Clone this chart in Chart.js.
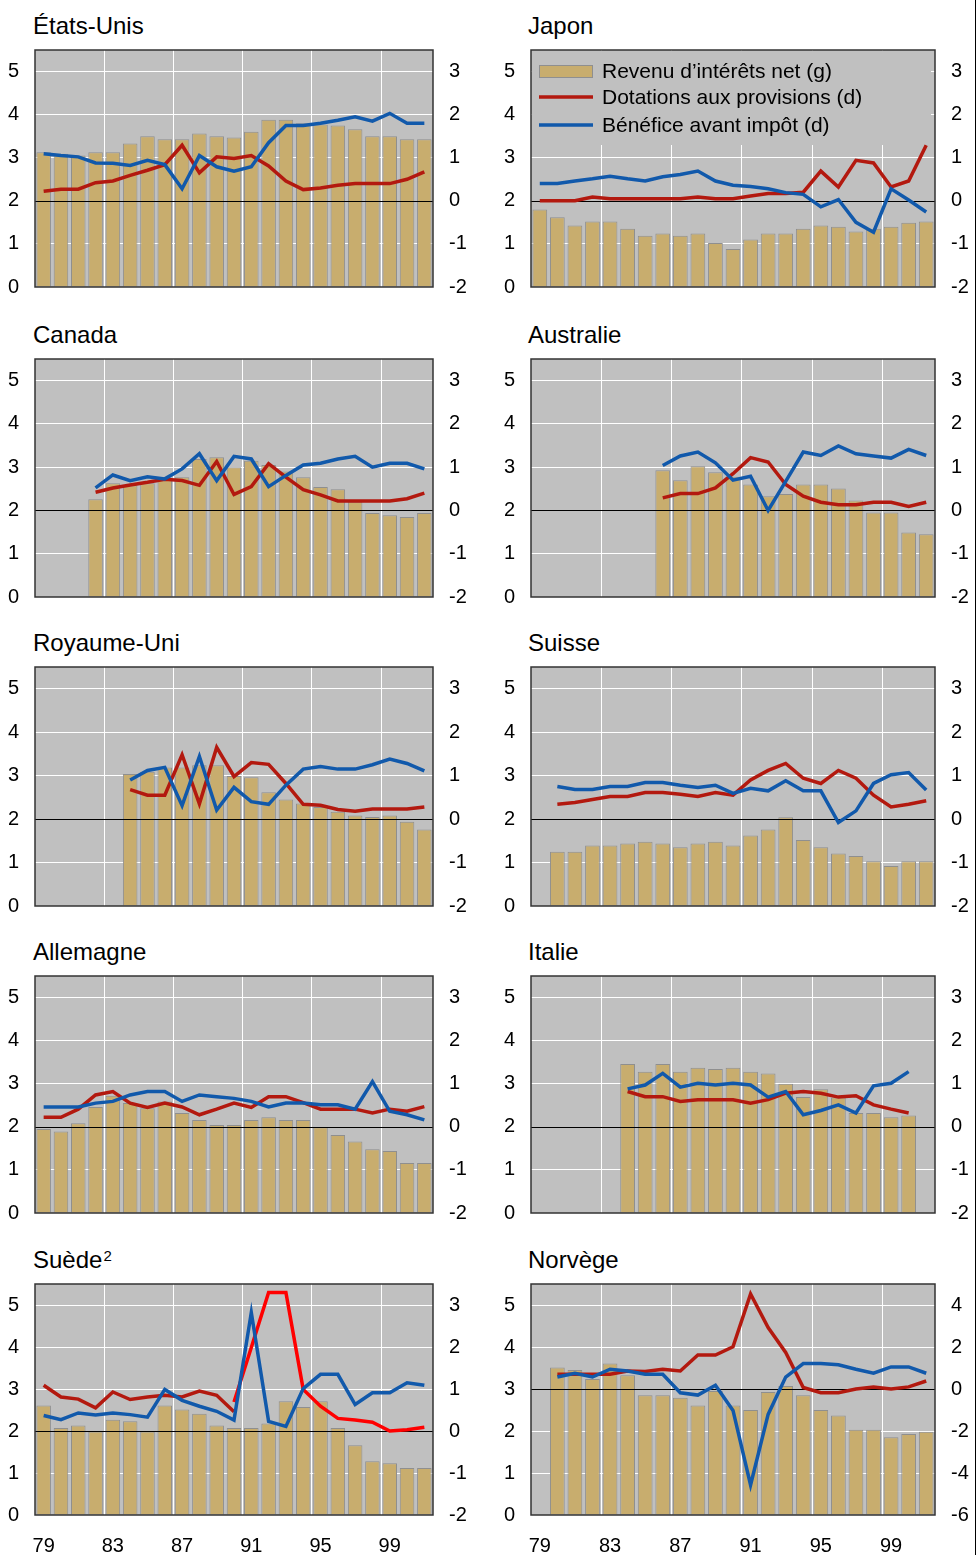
<!DOCTYPE html>
<html>
<head>
<meta charset="utf-8">
<script src="https://cdn.jsdelivr.net/npm/chart.js@4.4.1/dist/chart.umd.min.js"></script>
<style>
  body { margin: 0; background: #fff; }
  #page { position: relative; width: 977px; height: 1555px; overflow: hidden; background: #fff; }
  #page canvas { position: absolute; }
  .title { position: absolute; font-family: "Liberation Sans", Arial, sans-serif; font-size: 24px; line-height: 24px; color: #000; white-space: nowrap; }
  .title sup { font-size: 15px; vertical-align: top; position: relative; top: -4px; margin-left: 1px; }
  #edge { position: absolute; left: 975px; top: 0; width: 1px; height: 1555px; background: #000; }
</style>
</head>
<body>
<div id="page"><div id="edge"></div></div>
<script>
// years 1979-2001
const years = ['79','80','81','82','83','84','85','86','87','88','89','90','91','92','93','94','95','96','97','98','99','00','01'];
const yearTicks = ['79','83','87','91','95','99'];
const leftTicks = [0, 1, 2, 3, 4, 5];
const rightTicks = [-2, -1, 0, 1, 2, 3];
const rightTicksNorway = [-6, -4, -2, 0, 2, 4];

const labelBars = 'Revenu d’intérêts net (g)';
const labelProv = 'Dotations aux provisions (d)';
const labelProfit = 'Bénéfice avant impôt (d)';

// États-Unis
const usBars   = [3.13,3.09,3.05,3.13,3.13,3.33,3.50,3.43,3.43,3.56,3.50,3.47,3.60,3.88,3.88,3.80,3.77,3.75,3.66,3.50,3.50,3.43,3.43];
const usProv   = [0.22,0.27,0.27,0.42,0.46,0.59,0.71,0.84,1.29,0.65,1.02,0.98,1.05,0.81,0.46,0.26,0.30,0.36,0.40,0.40,0.40,0.50,0.67];
const usProfit = [1.09,1.05,1.02,0.88,0.87,0.82,0.94,0.84,0.28,1.05,0.79,0.69,0.79,1.35,1.75,1.75,1.80,1.87,1.95,1.85,2.03,1.80,1.80];

// Japon
const jpBars   = [1.80,1.62,1.43,1.52,1.52,1.35,1.19,1.24,1.19,1.24,1.02,0.88,1.10,1.24,1.24,1.35,1.43,1.40,1.29,1.35,1.40,1.49,1.52];
const jpProv   = [0.00,0.00,0.00,0.09,0.05,0.05,0.05,0.05,0.05,0.09,0.05,0.05,0.11,0.17,0.17,0.20,0.69,0.32,0.94,0.88,0.32,0.46,1.29];
const jpProfit = [0.40,0.40,0.46,0.51,0.57,0.51,0.46,0.56,0.61,0.69,0.46,0.36,0.33,0.28,0.19,0.15,-0.14,0.03,-0.50,-0.73,0.28,0.02,-0.26];

// Canada
const caBars   = [null,null,null,2.26,2.63,2.58,2.63,2.73,2.77,3.19,3.23,3.00,3.15,3.05,2.90,2.77,2.54,2.49,2.20,1.94,1.89,1.85,1.94];
const caProv   = [null,null,null,0.42,0.52,0.59,0.65,0.72,0.69,0.58,1.13,0.37,0.55,1.08,0.77,0.48,0.36,0.22,0.22,0.22,0.22,0.27,0.40];
const caProfit = [null,null,null,0.52,0.82,0.69,0.78,0.73,0.96,1.31,0.69,1.25,1.19,0.55,0.81,1.05,1.09,1.19,1.25,1.00,1.09,1.09,0.96];

// Australie
const auBars   = [null,null,null,null,null,null,null,2.93,2.70,3.02,2.88,2.78,2.60,2.33,2.38,2.60,2.60,2.51,2.23,1.95,1.95,1.49,1.45];
const auProv   = [null,null,null,null,null,null,null,0.29,0.39,0.39,0.52,0.85,1.22,1.12,0.60,0.33,0.19,0.13,0.13,0.19,0.19,0.09,0.19];
const auProfit = [null,null,null,null,null,null,null,1.04,1.26,1.35,1.10,0.70,0.79,0.00,0.67,1.35,1.27,1.49,1.31,1.26,1.21,1.41,1.27];

// Royaume-Uni
const ukBars   = [null,null,null,null,null,3.04,3.09,3.19,3.19,3.24,3.24,2.99,2.96,2.62,2.45,2.36,2.28,2.17,2.08,2.05,2.08,1.94,1.76];
const ukProv   = [null,null,null,null,null,0.68,0.55,0.55,1.48,0.35,1.65,0.98,1.30,1.26,0.82,0.34,0.32,0.22,0.18,0.23,0.23,0.23,0.28];
const ukProfit = [null,null,null,null,null,0.90,1.12,1.19,0.31,1.44,0.21,0.73,0.40,0.34,0.78,1.15,1.21,1.15,1.15,1.25,1.38,1.28,1.11];

// Suisse
const chBars   = [null,1.25,1.25,1.39,1.39,1.44,1.48,1.44,1.35,1.44,1.48,1.39,1.62,1.76,2.04,1.52,1.35,1.21,1.15,1.03,0.92,1.03,1.03];
const chProv   = [null,0.34,0.38,0.45,0.52,0.52,0.61,0.61,0.57,0.52,0.61,0.55,0.90,1.12,1.28,0.94,0.82,1.12,0.94,0.55,0.28,0.34,0.42];
const chProfit = [null,0.75,0.68,0.68,0.75,0.75,0.84,0.84,0.78,0.73,0.78,0.59,0.71,0.65,0.88,0.65,0.65,-0.08,0.19,0.82,1.02,1.07,0.67];

// Allemagne
const deBars   = [1.95,1.89,2.08,2.46,2.72,2.55,2.43,2.59,2.32,2.16,2.04,2.04,2.16,2.22,2.16,2.16,1.99,1.81,1.66,1.48,1.44,1.16,1.16];
const deProv   = [0.22,0.22,0.41,0.74,0.82,0.55,0.45,0.55,0.46,0.28,0.41,0.55,0.45,0.70,0.70,0.56,0.41,0.41,0.41,0.32,0.41,0.36,0.47];
const deProfit = [0.46,0.46,0.46,0.55,0.59,0.74,0.82,0.82,0.59,0.74,0.70,0.66,0.59,0.46,0.55,0.55,0.51,0.51,0.41,1.05,0.36,0.28,0.16];

// Italie
const itBars   = [null,null,null,null,null,3.46,3.28,3.46,3.28,3.37,3.34,3.37,3.28,3.24,3.00,2.69,2.87,2.68,2.32,2.32,2.22,2.26,null];
const itProv   = [null,null,null,null,null,0.82,0.70,0.70,0.59,0.63,0.63,0.63,0.55,0.63,0.78,0.82,0.78,0.69,0.72,0.51,0.41,0.32,null];
const itProfit = [null,null,null,null,null,0.88,0.97,1.24,0.92,1.01,0.97,1.01,0.97,0.69,0.82,0.28,0.38,0.51,0.32,0.95,1.01,1.28,null];

// Suède (two provision series: old up to 1990, new from 1990)
const seBars    = [2.61,2.07,2.13,1.99,2.27,2.23,1.99,2.61,2.51,2.41,2.13,2.07,2.07,2.18,2.71,2.57,2.71,2.07,1.66,1.28,1.23,1.12,1.12];
const seProv    = [1.09,0.81,0.76,0.55,0.93,0.75,0.81,0.85,0.81,0.95,0.85,0.46,null,null,null,null,null,null,null,null,null,null,null];
const seProvNew = [null,null,null,null,null,null,null,null,null,null,null,0.69,1.99,3.30,3.30,0.99,0.59,0.30,0.26,0.21,0.00,0.03,0.09];
const seProfit  = [0.37,0.27,0.43,0.38,0.43,0.39,0.33,0.99,0.73,0.59,0.47,0.26,2.82,0.23,0.11,1.01,1.35,1.35,0.63,0.91,0.91,1.15,1.09];

// Norvège
const noBars   = [null,3.51,3.45,3.24,3.61,3.33,2.85,2.85,2.79,2.61,2.95,2.61,2.50,2.93,3.07,2.85,2.50,2.37,2.03,2.03,1.85,1.93,1.98];
const noProv   = [null,0.70,0.70,0.70,0.70,0.86,0.83,0.94,0.86,1.62,1.62,2.01,4.53,2.93,1.74,0.07,-0.18,-0.18,0.00,0.10,0.00,0.10,0.38];
const noProfit = [null,0.57,0.75,0.57,0.94,0.86,0.70,0.70,-0.18,-0.29,0.18,-1.02,-4.57,-1.21,0.57,1.21,1.21,1.15,0.94,0.75,1.05,1.05,0.75];

const TAN = '#C8AD6E';
const BAR_EDGE = '#8F8F8F';
const RED = '#B3190F';
const BRIGHT_RED = '#FF0000';
const BLUE = '#1159AB';
const PLOT_BG = '#C0C0C0';

// plot area rows (top, bottom in page pixels)
const rowTop = [50, 359, 667, 976, 1284];
const rowBottom = [287, 597, 906, 1213, 1515];

const panels = [
  { title: 'États-Unis', col: 0, row: 0, bars: usBars, prov: usProv, profit: usProfit },
  { title: 'Japon', col: 1, row: 0, bars: jpBars, prov: jpProv, profit: jpProfit, legend: true },
  { title: 'Canada', col: 0, row: 1, bars: caBars, prov: caProv, profit: caProfit },
  { title: 'Australie', col: 1, row: 1, bars: auBars, prov: auProv, profit: auProfit },
  { title: 'Royaume-Uni', col: 0, row: 2, bars: ukBars, prov: ukProv, profit: ukProfit },
  { title: 'Suisse', col: 1, row: 2, bars: chBars, prov: chProv, profit: chProfit },
  { title: 'Allemagne', col: 0, row: 3, bars: deBars, prov: deProv, profit: deProfit },
  { title: 'Italie', col: 1, row: 3, bars: itBars, prov: itProv, profit: itProfit },
  { title: 'Suède', sup: '2', col: 0, row: 4, bars: seBars, prov: seProv, provNew: seProvNew, profit: seProfit },
  { title: 'Norvège', col: 1, row: 4, bars: noBars, prov: noProv, profit: noProfit, norway: true }
];

Chart.defaults.font.family = '"Liberation Sans", Arial, sans-serif';
Chart.defaults.font.size = 20;
Chart.defaults.color = '#000';

// grey plot background, black zero line over the bars, frame, legend
const panelPlugin = {
  id: 'panelPlugin',
  beforeDraw(chart) {
    const a = chart.chartArea, ctx = chart.ctx;
    ctx.save();
    ctx.fillStyle = PLOT_BG;
    ctx.fillRect(a.left, a.top, a.right - a.left, a.bottom - a.top);
    ctx.restore();
  },
  beforeDatasetsDraw(chart, args, opts) {
    if (!opts.legend) return;
    const a = chart.chartArea, ctx = chart.ctx;
    ctx.save();
    ctx.fillStyle = PLOT_BG;
    ctx.fillRect(a.left + 1, a.top + 1, 399, 94);
    ctx.restore();
  },
  afterDatasetDraw(chart, args, opts) {
    if (args.meta.type !== 'bar') return;
    const a = chart.chartArea, ctx = chart.ctx;
    const y = Math.round(chart.scales.yL.getPixelForValue(opts.zeroLeft)) + 0.5;
    ctx.save();
    ctx.strokeStyle = '#000';
    ctx.lineWidth = 1;
    ctx.beginPath();
    ctx.moveTo(a.left, y);
    ctx.lineTo(a.right, y);
    ctx.stroke();
    ctx.restore();
  },
  afterDatasetsDraw(chart, args, opts) {
    const a = chart.chartArea, ctx = chart.ctx;
    ctx.save();
    ctx.strokeStyle = '#333';
    ctx.lineWidth = 1.5;
    ctx.strokeRect(a.left, a.top, a.right - a.left, a.bottom - a.top);
    if (opts.legend) {
      const ds = chart.data.datasets;
      const x0 = a.left + 8, tx = a.left + 71;
      const rows = [a.top + 21.5, a.top + 47, a.top + 75];
      ctx.font = '21px "Liberation Sans", Arial, sans-serif';
      ctx.textBaseline = 'middle';
      ds.slice(0, 3).forEach((d, i) => {
        const y = rows[i];
        if (d.type === 'bar') {
          ctx.fillStyle = d.backgroundColor;
          ctx.fillRect(x0, y - 6.5, 54, 13);
          ctx.strokeStyle = d.borderColor;
          ctx.lineWidth = 1;
          ctx.strokeRect(x0 + 0.5, y - 6, 53, 12);
        } else {
          ctx.strokeStyle = d.borderColor;
          ctx.lineWidth = 3.5;
          ctx.beginPath();
          ctx.moveTo(x0, y);
          ctx.lineTo(x0 + 54, y);
          ctx.stroke();
        }
        ctx.fillStyle = '#000';
        ctx.fillText(d.label, tx, y + 1);
      });
    }
    ctx.restore();
  }
};

const page = document.getElementById('page');

function makePanel(p) {
  const colX = p.col === 0 ? 0 : 490;
  const colW = p.col === 0 ? 480 : 485;
  const plotL = p.col === 0 ? 35 : 531;
  const plotR = p.col === 0 ? 433 : 935;
  const top = rowTop[p.row], bottom = rowBottom[p.row];
  const isLast = p.row === 4;
  const padTop = 8;
  const padBottom = isLast ? 0 : 8;
  const xH = isLast ? 42 : 0;
  const h = padTop + (bottom - top) + xH + padBottom;

  const title = document.createElement('div');
  title.className = 'title';
  title.style.left = (p.col === 0 ? 33 : 528) + 'px';
  title.style.top = (top - 36.5) + 'px';
  title.textContent = p.title;
  if (p.sup) {
    const s = document.createElement('sup');
    s.textContent = p.sup;
    title.appendChild(s);
  }
  page.appendChild(title);

  const canvas = document.createElement('canvas');
  canvas.width = colW;
  canvas.height = h;
  canvas.style.left = colX + 'px';
  canvas.style.top = (top - padTop) + 'px';
  page.insertBefore(canvas, document.getElementById('edge'));

  const zeroLeft = p.norway ? 3 : 2;
  const rTicks = p.norway ? rightTicksNorway : rightTicks;

  const datasets = [
    { type: 'bar', label: labelBars, data: p.bars, yAxisID: 'yL',
      backgroundColor: TAN, borderColor: BAR_EDGE, borderWidth: 1,
      barPercentage: 0.84, categoryPercentage: 1, order: 4 },
    { type: 'line', label: labelProv, data: p.prov, yAxisID: 'yR',
      borderColor: RED, borderWidth: 3.5, pointRadius: 0, tension: 0, order: 3 },
    { type: 'line', label: labelProfit, data: p.profit, yAxisID: 'yR',
      borderColor: BLUE, borderWidth: 3.5, pointRadius: 0, tension: 0, order: 1 }
  ];
  if (p.provNew) {
    datasets.push({ type: 'line', label: labelProv, data: p.provNew, yAxisID: 'yR',
      borderColor: BRIGHT_RED, borderWidth: 3.5, pointRadius: 0, tension: 0, order: 2 });
  }

  // fixed axis sizes so the plot area lands where the reference has it
  const fitY = w => s => { s.width = w; s.paddingTop = 0; s.paddingBottom = 0; };

  new Chart(canvas, {
    data: { labels: years, datasets: datasets },
    options: {
      responsive: false,
      animation: false,
      events: [],
      devicePixelRatio: 1,
      layout: { padding: { top: padTop, bottom: padBottom, left: 0, right: 0 } },
      plugins: {
        legend: { display: false },
        tooltip: { enabled: false },
        panelPlugin: { legend: !!p.legend, zeroLeft: zeroLeft }
      },
      scales: {
        x: {
          type: 'category',
          offset: true,
          grid: {
            offset: true,
            drawTicks: false,
            lineWidth: 1,
            color: c => (c.index > 0 && c.index % 4 === 0) ? '#FFFFFF' : 'rgba(0,0,0,0)'
          },
          border: { display: false },
          ticks: {
            display: isLast,
            autoSkip: false,
            maxRotation: 0,
            minRotation: 0,
            padding: 19,
            callback: (v, i) => yearTicks.includes(years[i]) ? years[i] : ''
          },
          afterFit: s => { s.height = xH; s.paddingLeft = 0; s.paddingRight = 0; }
        },
        yL: {
          position: 'left',
          min: 0,
          max: 5.5,
          afterBuildTicks: s => { s.ticks = leftTicks.map(v => ({ value: v })); },
          grid: {
            drawTicks: false,
            lineWidth: 1,
            color: c => (c.tick && c.tick.value > 0 && c.tick.value !== zeroLeft) ? '#FFFFFF' : 'rgba(0,0,0,0)'
          },
          border: { display: false },
          ticks: { padding: 16 },
          afterFit: fitY(plotL - colX)
        },
        yR: {
          position: 'right',
          min: p.norway ? -6 : -2,
          max: p.norway ? 5 : 3.5,
          afterBuildTicks: s => { s.ticks = rTicks.map(v => ({ value: v })); },
          grid: { display: false, drawTicks: false },
          border: { display: false },
          ticks: { padding: 16 },
          afterFit: fitY(colX + colW - plotR)
        }
      }
    },
    plugins: [panelPlugin]
  });
}

panels.forEach(makePanel);
</script>
</body>
</html>
